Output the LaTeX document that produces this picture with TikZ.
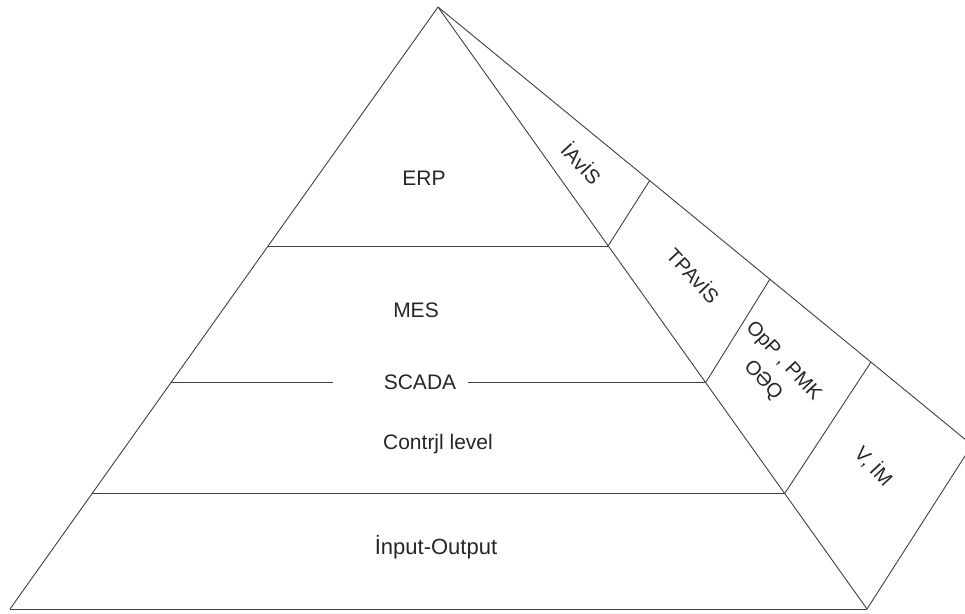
\documentclass[tikz,border=0pt]{standalone}
\usepackage{fontspec}
\setmainfont{Liberation Sans}
\begin{document}
\begin{tikzpicture}[x=1pt,y=-1pt,
  ln/.style={line width=0.9pt, draw=black!75},
  lbl/.style={text=black!85, inner sep=0pt, font=\fontsize{21}{25}\selectfont},
  slbl/.style={text=black!85, inner sep=0pt, rotate=-47, font=\fontsize{20}{28}\selectfont, align=center}]
\useasboundingbox (0,0) rectangle (965,613);
\clip (0,0) rectangle (965,613);
% pyramid corners
\coordinate (A) at (438,7);
\coordinate (BL) at (10,609);
\coordinate (BR) at (867,609);
\coordinate (RC) at (972,445);
% level lines
\coordinate (e1) at (268,246);
\coordinate (e2) at (608,246);
\coordinate (s1) at (171,382);
\coordinate (s2) at (706,382);
\coordinate (sg1) at (333,382);
\coordinate (sg2) at (468,382);
\coordinate (c1) at (92,493);
\coordinate (c2) at (785,493);
% side face divisions
\coordinate (o1) at (650,180);
\coordinate (o2) at (770,279);
\coordinate (o3) at (871,362);

\draw[ln] (A) -- (BL);
\draw[ln] (BL) -- (BR);
\draw[ln] (BR) -- (A);
\draw[ln] (A) -- (RC);
\draw[ln] (RC) -- (BR);
\draw[ln] (e1) -- (e2);
\draw[ln] (s1) -- (sg1);
\draw[ln] (sg2) -- (s2);
\draw[ln] (c1) -- (c2);
\draw[ln] (o1) -- (e2);
\draw[ln] (o2) -- (s2);
\draw[ln] (o3) -- (c2);

\node[lbl] (erp) at (424,178) {ERP};
\node[lbl] (mes) at (416,310) {MES};
\node[lbl] (scada) at (420,382) {SCADA};
\node[lbl] (ctrl) at (438,444) {Contrjl level};
\node[lbl, font=\fontsize{22}{26}\selectfont] (io) at (436,547) {İnput-Output};

\node[slbl] (iavis) at (582,163) {İAvİS};
\node[slbl] (tpavis) at (694,275) {TPAvİS};
\node[slbl] (opp) at (773,371) {OpP , PMK\\OƏQ};
\node[slbl] (vim) at (874,466) {V, İM};
\end{tikzpicture}
\end{document}
